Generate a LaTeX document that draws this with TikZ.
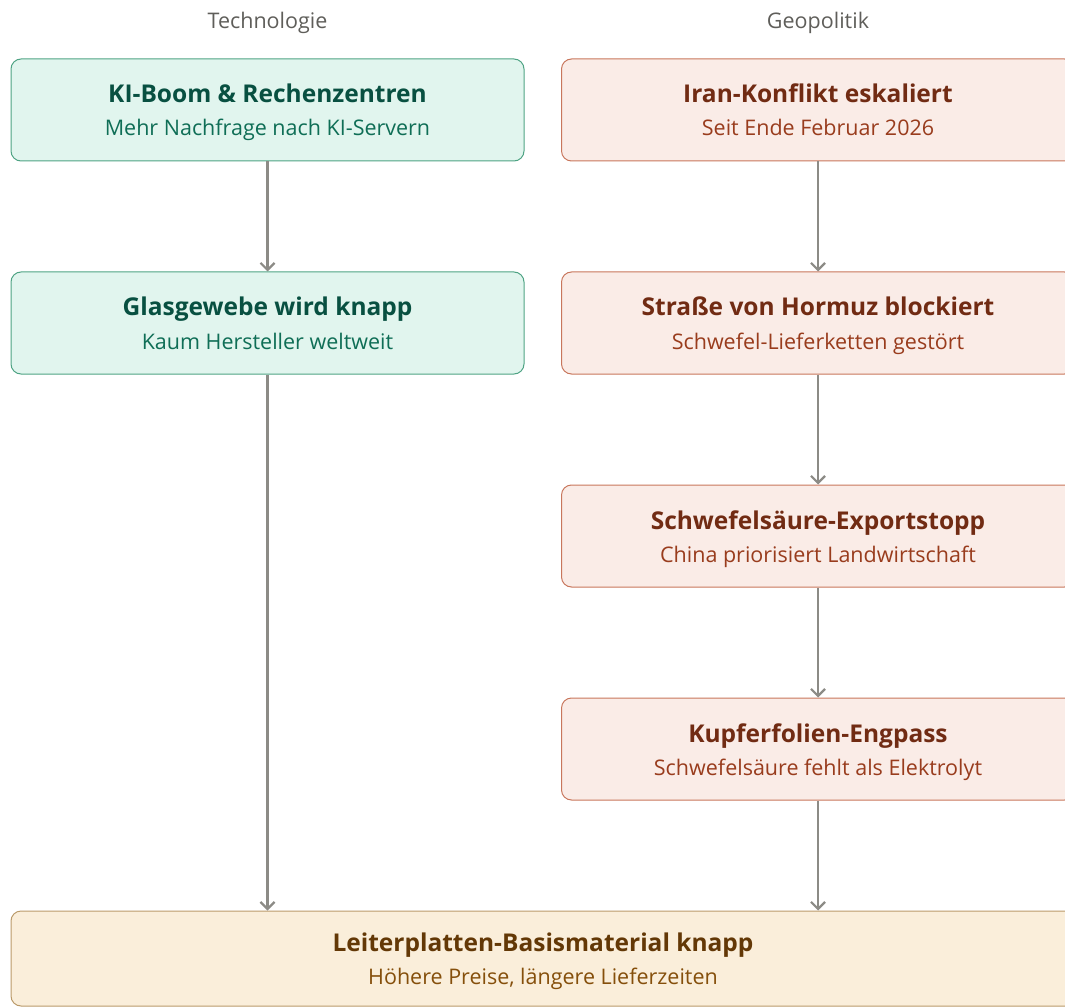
\documentclass[tikz,border=0pt]{standalone}
\usepackage{fontspec}
\setmainfont{Open Sans}
\usetikzlibrary{arrows.meta}
\definecolor{gfill}{HTML}{E1F5EE}
\definecolor{gdraw}{HTML}{4FA384}
\definecolor{gtitle}{HTML}{085041}
\definecolor{gsub}{HTML}{0F6E56}
\definecolor{rfill}{HTML}{FAECE7}
\definecolor{rdraw}{HTML}{C8765C}
\definecolor{rtitle}{HTML}{712B13}
\definecolor{rsub}{HTML}{993C1D}
\definecolor{afill}{HTML}{FAEEDA}
\definecolor{adraw}{HTML}{BA9A6A}
\definecolor{atitle}{HTML}{633806}
\definecolor{asub}{HTML}{854F0B}
\definecolor{arr}{HTML}{8C8B86}
\definecolor{hdr}{HTML}{5F5E5A}
\tikzset{
  box/.style={rectangle, rounded corners=10pt, line width=1pt, minimum width=513pt, minimum height=102pt, inner sep=0pt},
  gbox/.style={box, fill=gfill, draw=gdraw},
  rbox/.style={box, fill=rfill, draw=rdraw},
  abox/.style={box, fill=afill, draw=adraw, minimum width=1064pt, minimum height=95pt},
  ttl/.style={anchor=base, inner sep=0pt, font=\fontsize{24.5}{28}\selectfont\bfseries},
  sub/.style={anchor=base, inner sep=0pt, font=\fontsize{21.5}{26}\selectfont},
  hdrs/.style={anchor=base, inner sep=0pt, text=hdr, font=\fontsize{21.5}{26}\selectfont},
  conn/.style={draw=arr, line width=2.2pt, -{Straight Barb[length=7pt,width=14pt,line width=2.2pt]}}
}
\begin{document}
\begin{tikzpicture}[x=1pt,y=-1pt]
\useasboundingbox (0,0) rectangle (1065,1008);
\clip (0,0) rectangle (1065,1008);
\node[hdrs] (h1) at (267.5,29) {Technologie};
\node[hdrs] (h2) at (818,29) {Geopolitik};
% left column
\node[gbox] (g1) at (267.5,110) {};
\node[ttl,text=gtitle] (g1t) at (267.5,103) {KI-Boom \& Rechenzentren};
\node[sub,text=gsub] (g1s) at (267.5,136) {Mehr Nachfrage nach KI-Servern};
\node[gbox] (g2) at (267.5,323) {};
\node[ttl,text=gtitle] (g2t) at (267.5,316) {Glasgewebe wird knapp};
\node[sub,text=gsub] (g2s) at (267.5,349) {Kaum Hersteller weltweit};
% right column
\node[rbox] (r1) at (818,110) {};
\node[ttl,text=rtitle] (r1t) at (818,103) {Iran-Konflikt eskaliert};
\node[sub,text=rsub] (r1s) at (818,136) {Seit Ende Februar 2026};
\node[rbox] (r2) at (818,323) {};
\node[ttl,text=rtitle] (r2t) at (818,316) {Straße von Hormuz blockiert};
\node[sub,text=rsub] (r2s) at (818,349) {Schwefel-Lieferketten gestört};
\node[rbox] (r3) at (818,536) {};
\node[ttl,text=rtitle] (r3t) at (818,529) {Schwefelsäure-Exportstopp};
\node[sub,text=rsub] (r3s) at (818,562) {China priorisiert Landwirtschaft};
\node[rbox] (r4) at (818,749) {};
\node[ttl,text=rtitle] (r4t) at (818,742) {Kupferfolien-Engpass};
\node[sub,text=rsub] (r4s) at (818,775) {Schwefelsäure fehlt als Elektrolyt};
% bottom
\node[abox] (b) at (543,958.5) {};
\node[ttl,text=atitle] (bt) at (543,951) {Leiterplatten-Basismaterial knapp};
\node[sub,text=asub] (bs) at (543,984) {Höhere Preise, längere Lieferzeiten};
% connectors
\draw[conn] (g1.south) -- (g2.north);
\draw[conn] (g2.south) -- (g2.south |- b.north);
\draw[conn] (r1.south) -- (r2.north);
\draw[conn] (r2.south) -- (r3.north);
\draw[conn] (r3.south) -- (r4.north);
\draw[conn] (r4.south) -- (r4.south |- b.north);
\end{tikzpicture}
\end{document}
